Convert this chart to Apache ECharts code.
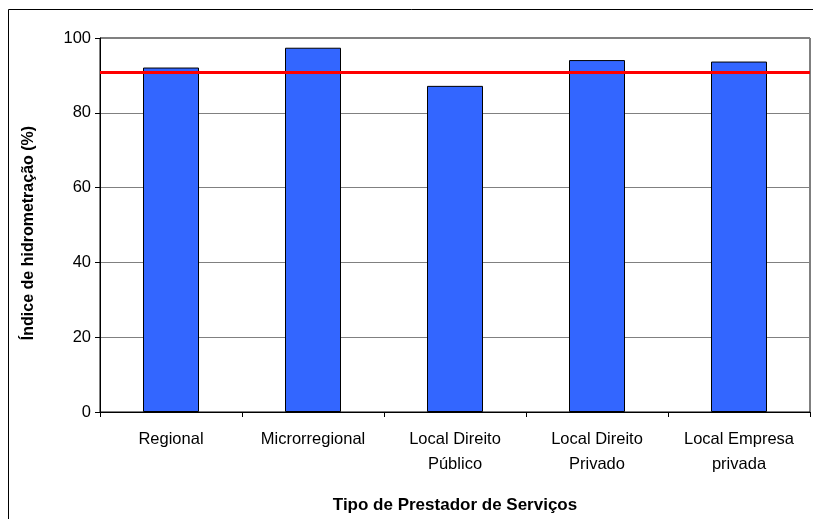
<!DOCTYPE html>
<html>
<head>
<meta charset="utf-8">
<script src="https://cdn.jsdelivr.net/npm/echarts@6/dist/echarts.min.js"></script>
<style>
  html, body { margin: 0; padding: 0; background: #fff; }
  #chart { width: 813px; height: 519px; }
</style>
</head>
<body>
<div id="chart"></div>
<script>
// tipos de prestador e índice de hidrometração (%)
var categorias = ['Regional', 'Microrregional', 'Local Direito\nPúblico', 'Local Direito\nPrivado', 'Local Empresa\nprivada'];
var indice = [92.1, 97.4, 87.2, 94.1, 93.7];
var media = 90.9;   // linha vermelha
var yTicks = [0, 20, 40, 60, 80, 100];

var chart = echarts.init(document.getElementById('chart'));
var fonte = 'Liberation Sans, Arial, sans-serif';

var option = {
    animation: false,
    backgroundColor: '#fff',
    graphic: [
        {   // moldura externa
            type: 'rect',
            shape: { x: 8.5, y: 9.5, width: 900, height: 600 },
            style: { fill: 'none', stroke: '#000', lineWidth: 1 },
            silent: true
        }
    ],
    grid: {
        left: 100,
        right: 3,
        top: 38,
        bottom: 107,
        show: true,
        borderColor: '#000',
        borderWidth: 1
    },
    xAxis: {
        type: 'category',
        data: categorias,
        name: 'Tipo de Prestador de Serviços',
        nameLocation: 'middle',
        nameGap: 85,
        nameTextStyle: { fontFamily: fonte, fontSize: 17, fontWeight: 'bold', color: '#000' },
        axisLine: { lineStyle: { color: '#000', width: 1 } },
        axisTick: { show: true, alignWithLabel: false, inside: false, length: 5, lineStyle: { color: '#000' } },
        axisLabel: { fontFamily: fonte, fontSize: 16.5, color: '#000', margin: 15, lineHeight: 25, interval: 0 },
        splitLine: { show: false }
    },
    yAxis: {
        type: 'value',
        min: yTicks[0],
        max: yTicks[yTicks.length - 1],
        interval: 20,
        name: 'Índice de hidrometração (%)',
        nameLocation: 'middle',
        nameGap: 63,
        nameTextStyle: { fontFamily: fonte, fontSize: 16, fontWeight: 'bold', color: '#000', padding: [0, 16, 0, 0] },
        axisLine: { show: true, lineStyle: { color: '#000', width: 1 } },
        axisTick: { show: true, inside: false, length: 5, lineStyle: { color: '#000' } },
        axisLabel: { fontFamily: fonte, fontSize: 16.5, color: '#000', margin: 9 },
        splitLine: { show: true, lineStyle: { color: '#808080', width: 1 } }
    },
    series: [
        {
            name: 'Índice',
            type: 'bar',
            data: indice,
            barWidth: 56,
            itemStyle: { color: '#3366FF', borderColor: '#000', borderWidth: 1 },
            markLine: {
                silent: true,
                symbol: ['none', 'none'],
                label: { show: false },
                lineStyle: { color: '#FF0000', width: 3, type: 'solid' },
                data: [{ yAxis: media }]
            }
        }
    ]
};
chart.setOption(option);
</script>
</body>
</html>
